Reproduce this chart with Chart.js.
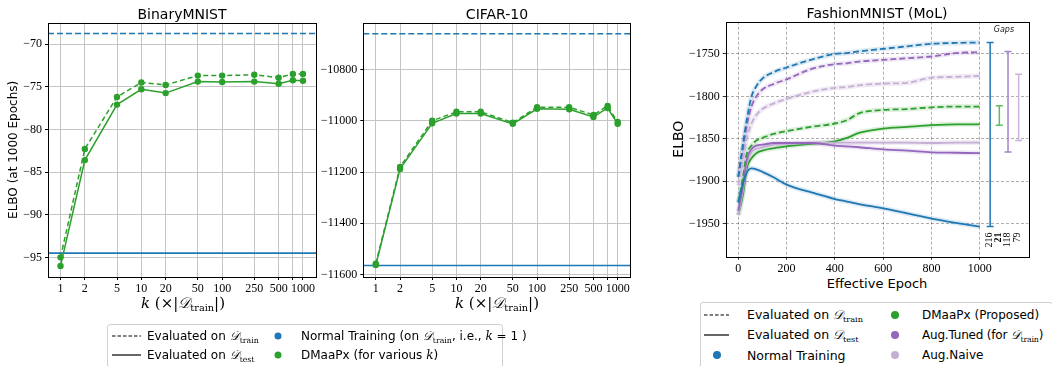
<!DOCTYPE html>
<html>
<head>
<meta charset="utf-8">
<script src="https://cdn.jsdelivr.net/npm/chart.js@4.4.0/dist/chart.umd.min.js"></script>
<style>
body { margin:0; width:1052px; height:366px; overflow:hidden; background:#fff; position:relative; font-family:'DejaVu Sans', sans-serif; color:#000; }
.cv { position:absolute; top:0; }
.ttl { position:absolute; transform:translate(-50%,-50%); white-space:nowrap; font-size:14px; }
.axt { position:absolute; transform:translate(-50%,-50%); white-space:nowrap; font-family:'DejaVu Serif', serif; font-size:15px; }
.axt i { font-family:'DejaVu Serif', serif; }
sub { font-family:'DejaVu Serif', serif; font-size:0.65em; vertical-align:-0.35em; line-height:0; }
.cal { font-family:'DejaVu Serif', serif; font-style:italic; }
.leg { position:absolute; border:1px solid #d0d0d0; border-radius:3px; background:#fff; }
.it { position:absolute; white-space:nowrap; transform:translateY(-50%); }
.dot { position:absolute; border-radius:50%; transform:translate(-50%,-50%); }
svg.smp { position:absolute; overflow:visible; }
</style>
</head>
<body>
<div class="cv" style="left:0;width:330px;height:300px"><canvas id="c1"></canvas></div>
<div class="cv" style="left:320px;width:330px;height:300px"><canvas id="c2"></canvas></div>
<div class="cv" style="left:665px;width:387px;height:275px"><canvas id="c3"></canvas></div>

<div class="ttl" style="left:182px;top:14px">BinaryMNIST</div>
<div class="ttl" style="left:497px;top:14px">CIFAR-10</div>
<div class="ttl" style="left:877px;top:13px">FashionMNIST (MoL)</div>
<div class="axt" style="left:183px;top:303px"><i>k</i> (×|<span class="cal">𝒟</span><sub>train</sub>|)</div>
<div class="axt" style="left:497px;top:303px"><i>k</i> (×|<span class="cal">𝒟</span><sub>train</sub>|)</div>
<div class="ttl" style="left:877px;top:283px;font-size:13px">Effective Epoch</div>

<div class="leg" style="left:107px;top:324px;width:394px;height:50px"></div>
<svg class="smp" style="left:112px;top:335px" width="30" height="2"><line x1="0" y1="1" x2="29" y2="1" stroke="#000" stroke-width="1.2" stroke-dasharray="3.5,2"/></svg>
<div class="it" style="left:147px;top:336px;font-size:12px">Evaluated on <span class="cal">𝒟</span><sub>train</sub></div>
<svg class="smp" style="left:112px;top:354px" width="30" height="2"><line x1="0" y1="1" x2="29" y2="1" stroke="#000" stroke-width="1.2"/></svg>
<div class="it" style="left:147px;top:355px;font-size:12px">Evaluated on <span class="cal">𝒟</span><sub>test</sub></div>
<div class="dot" style="left:278px;top:336px;width:7px;height:7px;background:#1f77b4"></div>
<div class="it" style="left:301px;top:336px;font-size:12px">Normal Training (on <span class="cal">𝒟</span><sub>train</sub>, i.e., <i class="cal">k</i> = 1 )</div>
<div class="dot" style="left:278px;top:355px;width:7px;height:7px;background:#2ca02c"></div>
<div class="it" style="left:301px;top:355px;font-size:12px">DMaaPx (for various <i class="cal">k</i>)</div>

<div class="leg" style="left:700px;top:302px;width:351px;height:70px"></div>
<svg class="smp" style="left:704px;top:314px" width="26" height="2"><line x1="0" y1="1" x2="25" y2="1" stroke="#000" stroke-width="1.2" stroke-dasharray="3.5,2"/></svg>
<div class="it" style="left:747px;top:315px;font-size:12.5px">Evaluated on <span class="cal">𝒟</span><sub>train</sub></div>
<svg class="smp" style="left:704px;top:334px" width="26" height="2"><line x1="0" y1="1" x2="25" y2="1" stroke="#000" stroke-width="1.2"/></svg>
<div class="it" style="left:747px;top:335px;font-size:12.5px">Evaluated on <span class="cal">𝒟</span><sub>test</sub></div>
<div class="dot" style="left:717px;top:355px;width:8px;height:8px;background:#1f77b4"></div>
<div class="it" style="left:747px;top:355px;font-size:12.5px">Normal Training</div>
<div class="dot" style="left:895px;top:315px;width:8px;height:8px;background:#2ca02c"></div>
<div class="it" style="left:922px;top:315px;font-size:12px">DMaaPx (Proposed)</div>
<div class="dot" style="left:895px;top:335px;width:8px;height:8px;background:#9467bd"></div>
<div class="it" style="left:922px;top:335px;font-size:12px;letter-spacing:-0.2px">Aug.Tuned (for <span class="cal">𝒟</span><sub>train</sub>)</div>
<div class="dot" style="left:895px;top:355px;width:8px;height:8px;background:#c5b0d5"></div>
<div class="it" style="left:922px;top:355px;font-size:12px">Aug.Naive</div>

<script>
// ---- data: left two panels (ELBO at 1000 epochs vs k) ----
const kValues = [1, 2, 5, 10, 20, 50, 100, 250, 500, 750, 1000];
const kTickLabels = ['1', '2', '5', '10', '20', '50', '100', '250', '500', '', '1000'];
const mnistTrain = [-95.0, -82.3, -76.2, -74.5, -74.8, -73.7, -73.7, -73.6, -73.95, -73.5, -73.5];
const mnistTest = [-96.0, -83.6, -77.1, -75.3, -75.75, -74.4, -74.45, -74.4, -74.65, -74.25, -74.3];
const mnistNormal = [-68.76, -94.5];        // [train, test]
const mnistYTicks = [-95, -90, -85, -80, -75, -70];
const cifarTrain = [-11558, -11180, -11000, -10965, -10965, -11007, -10947, -10947, -10977, -10942, -11005];
const cifarTest = [-11563, -11188, -11010, -10972, -10972, -11012, -10953, -10955, -10985, -10950, -11012];
const cifarNormal = [-10660, -11565];       // [train, test]
const cifarYTicks = [-11600, -11400, -11200, -11000, -10800];

// ---- data: FashionMNIST (MoL) curves vs effective epoch ----
const epochs = [0, 20, 35, 55, 75, 100, 150, 200, 300, 400, 450, 500, 600, 700, 800, 900, 1000];
const normalTrainCurve = [-1895, -1855, -1828, -1800, -1788, -1779, -1771, -1766, -1757, -1750, -1749, -1747, -1744, -1741, -1738, -1737, -1736.5];
const normalTestCurve = [-1925, -1902, -1890, -1885, -1886, -1889, -1896, -1904, -1913, -1921, -1924, -1927, -1932, -1938, -1944, -1949, -1953.5];
const tunedTrainCurve = [-1895, -1860, -1835, -1812, -1800, -1792, -1785, -1780, -1768, -1762, -1761, -1759, -1757, -1755, -1753, -1749, -1748];
const tunedTestCurve = [-1935, -1905, -1875, -1862, -1858, -1857, -1855, -1855, -1855, -1858, -1859, -1860, -1862.5, -1864, -1866, -1866.5, -1867];
const naiveTrainCurve = [-1905, -1875, -1850, -1832, -1822, -1815, -1808, -1803, -1795, -1790, -1789, -1787, -1785, -1784, -1778, -1777, -1776];
const naiveTestCurve = [-1940, -1910, -1880, -1866, -1862, -1860, -1857, -1856, -1855, -1854.5, -1854.5, -1854.5, -1854.5, -1854.5, -1855, -1854.5, -1854.5];
const dmTrainCurve = [-1925, -1895, -1868, -1858, -1852, -1849, -1844, -1841, -1836, -1832, -1828, -1820, -1816, -1815, -1813, -1812, -1812];
const dmTestCurve = [-1940, -1915, -1885, -1873, -1867, -1864, -1861, -1859, -1856, -1853, -1849, -1843, -1838, -1836, -1834, -1833, -1833];
const epochTicks = [0, 200, 400, 600, 800, 1000];
const fashionYTicks = [-1950, -1900, -1850, -1800, -1750];
// gap bars (train - test at the last epoch)
const gapX = [1043, 1081, 1117, 1161];
const gapHigh = [-1736.5, -1811, -1747, -1774];
const gapLow = [-1953.5, -1834, -1865.5, -1852];
const gapLabels = ['216', '21', '118', '79'];

const BLUE = '#1f77b4', GREEN = '#2ca02c', PURPLE = '#9467bd', LPURPLE = '#c5b0d5';
const gapColors = [BLUE, '#5cbf5c', '#a583cc', '#c9b5da'];
const tickFont = { family: "'Liberation Serif', serif", size: 12 };
const minus = v => String(v).replace('-', '\u2212');

const frame = {
  id: 'frame',
  afterDraw(chart) {
    const a = chart.chartArea, c = chart.ctx;
    c.save(); c.strokeStyle = '#000'; c.lineWidth = 1;
    c.strokeRect(Math.round(a.left) + 0.5, Math.round(a.top) + 0.5, Math.round(a.right - a.left), Math.round(a.bottom - a.top));
    c.restore();
  }
};

const hLines = {
  id: 'hLines',
  beforeDatasetsDraw(chart, args, opts) {
    const a = chart.chartArea, c = chart.ctx, y = chart.scales.y;
    c.save(); c.strokeStyle = BLUE; c.lineWidth = 1.6;
    opts.values.forEach((v, i) => {
      c.setLineDash(i === 0 ? [6, 3] : []);
      const py = y.getPixelForValue(v);
      c.beginPath(); c.moveTo(a.left, py); c.lineTo(a.right, py); c.stroke();
    });
    c.restore();
  }
};

function kChart(id, train, test, normal, yTicks, yMin, yMax, yWidth, padRight, yTitle) {
  const pts = arr => kValues.map((k, i) => ({ x: k, y: arr[i] }));
  const ds = (arr, dash) => ({
    data: pts(arr), borderColor: GREEN, backgroundColor: GREEN, borderWidth: 1.5,
    borderDash: dash, pointRadius: 3.2, pointBorderWidth: 0, tension: 0
  });
  new Chart(document.getElementById(id), {
    type: 'line',
    data: { datasets: [ds(train, [5, 3]), ds(test, [])] },
    options: {
      responsive: true, maintainAspectRatio: false, animation: false,
      layout: { padding: { top: 22.7, right: padRight, left: 0, bottom: 0 } },
      plugins: { legend: { display: false }, tooltip: { enabled: false }, hLines: { values: normal } },
      scales: {
        x: {
          type: 'logarithmic', min: 0.7, max: 1450,
          afterBuildTicks: s => { s.ticks = kValues.map(v => ({ value: v })); },
          afterFit: s => { s.height = 300 - 277; },
          ticks: { font: tickFont, color: '#000', padding: 2, maxRotation: 0, autoSkip: false,
                   callback: (v, i) => kTickLabels[i] },
          grid: { color: '#c4c4c4', lineWidth: 1, tickLength: 3, tickColor: '#000' },
          border: { display: false }
        },
        y: {
          min: yMin, max: yMax,
          afterBuildTicks: s => { s.ticks = yTicks.map(v => ({ value: v })); },
          afterFit: s => { s.width = yWidth; },
          ticks: { font: tickFont, color: '#000', padding: 3, callback: v => minus(v) },
          grid: { color: '#c4c4c4', lineWidth: 1, tickLength: 3, tickColor: '#000' },
          border: { display: false },
          title: yTitle ? { display: true, text: yTitle, color: '#000',
                            font: { family: "'DejaVu Sans', sans-serif", size: 12 }, padding: { top: 7, bottom: 0 } }
                        : { display: false }
        }
      }
    },
    plugins: [hLines, frame]
  });
}

kChart('c1', mnistTrain, mnistTest, mnistNormal, mnistYTicks, -97.3, -67.5, 48, 14, 'ELBO (at 1000 Epochs)');
kChart('c2', cifarTrain, cifarTest, cifarNormal, cifarYTicks, -11610, -10617, 43.3, 19.3, null);

// ---- FashionMNIST panel ----
const gaps = {
  id: 'gaps',
  afterDatasetsDraw(chart) {
    const c = chart.ctx, x = chart.scales.x, y = chart.scales.y;
    c.save();
    gapX.forEach((gx, i) => {
      const px = x.getPixelForValue(gx), p1 = y.getPixelForValue(gapHigh[i]), p2 = y.getPixelForValue(gapLow[i]);
      c.strokeStyle = gapColors[i]; c.lineWidth = 1.5;
      c.beginPath();
      c.moveTo(px, p1); c.lineTo(px, p2);
      c.moveTo(px - 3.5, p1); c.lineTo(px + 3.5, p1);
      c.moveTo(px - 3.5, p2); c.lineTo(px + 3.5, p2);
      c.stroke();
      c.save();
      c.translate(px - 1, y.getPixelForValue(gapLow[0]) + 6);
      c.rotate(-Math.PI / 2);
      c.fillStyle = '#000';
      c.font = (i === 1 ? 'bold ' : '') + "10px 'Liberation Serif', serif";
      c.textAlign = 'right'; c.textBaseline = 'middle';
      c.fillText(gapLabels[i], 0, 0);
      c.restore();
    });
    c.fillStyle = '#222';
    c.font = "italic 8px 'DejaVu Sans', sans-serif";
    c.textAlign = 'center'; c.textBaseline = 'middle';
    c.fillText('Gaps', x.getPixelForValue(1100), chart.chartArea.top + 8);
    c.restore();
  }
};

const curve = (arr, color, dash) => ({
  data: epochs.map((e, i) => ({ x: e, y: arr[i] })),
  borderColor: color, borderWidth: 1.8, borderDash: dash, pointRadius: 0,
  cubicInterpolationMode: 'monotone', order: 1
});
const haze = (arr, color) => ({
  data: epochs.map((e, i) => ({ x: e, y: arr[i] })),
  borderColor: color, borderWidth: 5, pointRadius: 0,
  cubicInterpolationMode: 'monotone', order: 2
});
const series = [
  [normalTrainCurve, BLUE, [6, 3]], [normalTestCurve, BLUE, []],
  [tunedTrainCurve, PURPLE, [6, 3]], [tunedTestCurve, PURPLE, []],
  [naiveTrainCurve, LPURPLE, [6, 3]], [naiveTestCurve, LPURPLE, []],
  [dmTrainCurve, GREEN, [6, 3]], [dmTestCurve, GREEN, []]
];
const hazeColors = { [BLUE]: 'rgba(31,119,180,0.15)', [PURPLE]: 'rgba(148,103,189,0.15)',
                     [LPURPLE]: 'rgba(197,176,213,0.25)', [GREEN]: 'rgba(44,160,44,0.15)' };

new Chart(document.getElementById('c3'), {
  type: 'line',
  data: { datasets: [...series.map(s => curve(s[0], s[1], s[2])), ...series.map(s => haze(s[0], hazeColors[s[1]]))] },
  options: {
    responsive: true, maintainAspectRatio: false, animation: false,
    layout: { padding: { top: 21.7, right: 23.7, left: 0, bottom: 0 } },
    plugins: { legend: { display: false }, tooltip: { enabled: false } },
    scales: {
      x: {
        type: 'linear', min: -52, max: 1201,
        afterBuildTicks: s => { s.ticks = epochTicks.map(v => ({ value: v })); },
        afterFit: s => { s.height = 275 - 256.7; },
        ticks: { font: tickFont, color: '#000', padding: 2, maxRotation: 0, callback: v => String(v) },
        grid: { color: 'rgba(0,0,0,0.4)', lineWidth: 0.8, tickLength: 3, tickColor: '#000', tickBorderDash: [] },
        border: { display: false, dash: [3, 2] }
      },
      y: {
        min: -1989, max: -1712,
        afterBuildTicks: s => { s.ticks = fashionYTicks.map(v => ({ value: v })); },
        afterFit: s => { s.width = 60.7; },
        ticks: { font: tickFont, color: '#000', padding: 3, callback: v => minus(v) },
        grid: { color: 'rgba(0,0,0,0.4)', lineWidth: 0.8, tickLength: 3, tickColor: '#000' },
        border: { display: false, dash: [3, 2] },
        title: { display: true, text: 'ELBO', color: '#000',
                 font: { family: "'DejaVu Sans', sans-serif", size: 14 }, padding: { top: 6, bottom: 0 } }
      }
    }
  },
  plugins: [gaps, frame]
});
</script>
</body>
</html>
